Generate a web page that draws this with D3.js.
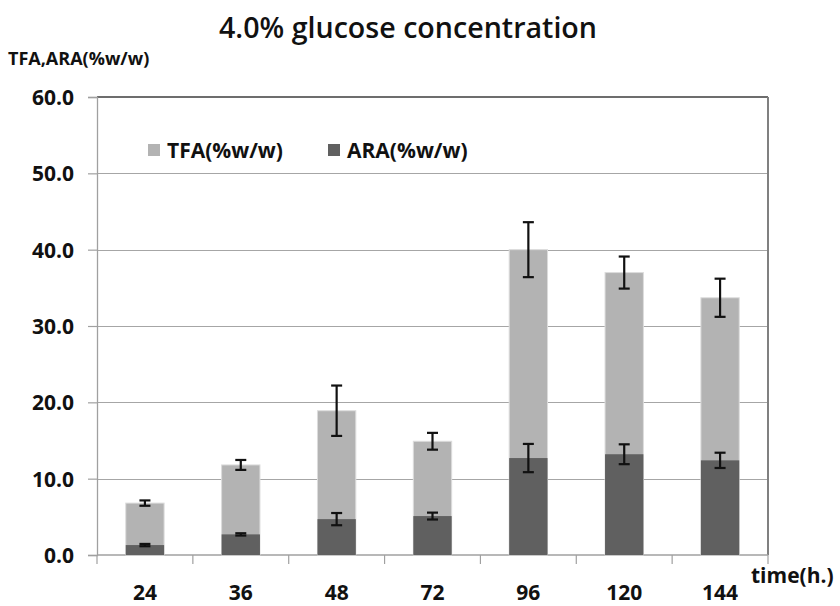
<!DOCTYPE html>
<html>
<head>
<meta charset="utf-8">
<script src="https://cdn.jsdelivr.net/npm/d3@7"></script>
<style>
  html, body { margin: 0; padding: 0; background: #fff; }
  svg { display: block; }
  text { font-family: "Open Sans", "Noto Sans", sans-serif; fill: #111; }
</style>
</head>
<body>
<svg id="chart" width="840" height="606"></svg>
<script>
// Sampling times (hours)
const categories = ["24", "36", "48", "72", "96", "120", "144"];
// Total fatty acids, % w/w, with standard deviation
const tfaValues = [6.8, 11.8, 18.9, 14.9, 40.0, 37.0, 33.7];
const tfaErrors = [0.35, 0.65, 3.3, 1.1, 3.6, 2.1, 2.5];
// Arachidonic acid, % w/w, with standard deviation
const araValues = [1.3, 2.7, 4.7, 5.1, 12.7, 13.2, 12.4];
const araErrors = [0.15, 0.15, 0.8, 0.45, 1.85, 1.3, 1.0];
// Value axis ticks
const yTicks = [0, 10, 20, 30, 40, 50, 60];
const seriesNames = ["TFA(%w/w)", "ARA(%w/w)"];

const svg = d3.select("#chart");
const plot = { left: 97, right: 768, top: 97, bottom: 555 };

const x = d3.scaleBand()
  .domain(categories)
  .range([plot.left, plot.right])
  .paddingInner(0.6)
  .paddingOuter(0.3);

const y = d3.scaleLinear()
  .domain([0, 60])
  .range([plot.bottom, plot.top]);

const colors = { tfa: "#b3b3b3", ara: "#606060" };

// Horizontal gridlines
svg.append("g")
  .selectAll("line")
  .data(yTicks.filter(t => t > 0 && t < 60))
  .join("line")
  .attr("x1", plot.left).attr("x2", plot.right)
  .attr("y1", d => Math.round(y(d)) + 0.5).attr("y2", d => Math.round(y(d)) + 0.5)
  .attr("stroke", "#a6a6a6").attr("stroke-width", 1.2);

// Plot frame: top and right edges
svg.append("line")
  .attr("x1", plot.left).attr("x2", plot.right)
  .attr("y1", y(60)).attr("y2", y(60))
  .attr("stroke", "#3c3c3c").attr("stroke-width", 1.3);
svg.append("line")
  .attr("x1", plot.right).attr("x2", plot.right)
  .attr("y1", y(60)).attr("y2", plot.bottom)
  .attr("stroke", "#808080").attr("stroke-width", 2);

// Y axis
const yAxis = d3.axisLeft(y)
  .tickValues(yTicks)
  .tickFormat(d3.format(".1f"))
  .tickSize(9)
  .tickPadding(14);
const gy = svg.append("g")
  .attr("transform", `translate(${plot.left},0)`)
  .call(yAxis);
gy.select(".domain").attr("stroke", "#a0a0a0").attr("stroke-width", 1.3);
gy.selectAll(".tick line").attr("stroke", "#a0a0a0").attr("stroke-width", 1.2);
gy.selectAll(".tick text")
  .attr("font-size", 21).attr("font-weight", "bold")
  .attr("fill", "#111").attr("dy", "0.36em");

// X axis: baseline, boundary ticks and category labels
svg.append("line")
  .attr("x1", plot.left).attr("x2", plot.right)
  .attr("y1", plot.bottom).attr("y2", plot.bottom)
  .attr("stroke", "#a0a0a0").attr("stroke-width", 1.3);
const boundaries = d3.range(categories.length + 1).map(i => plot.left + i * x.step());
svg.append("g")
  .selectAll("line")
  .data(boundaries)
  .join("line")
  .attr("x1", d => d).attr("x2", d => d)
  .attr("y1", plot.bottom).attr("y2", plot.bottom + 9)
  .attr("stroke", "#a0a0a0").attr("stroke-width", 1.2);
svg.append("g")
  .selectAll("text")
  .data(categories)
  .join("text")
  .attr("x", d => x(d) + x.bandwidth() / 2)
  .attr("y", 600)
  .attr("text-anchor", "middle")
  .attr("font-size", 21).attr("font-weight", "bold")
  .text(d => d);

// Bars: TFA behind, ARA in front, both from zero
const rows = categories.map((c, i) => ({
  cat: c, tfa: tfaValues[i], tfaErr: tfaErrors[i], ara: araValues[i], araErr: araErrors[i]
}));

svg.append("g")
  .selectAll("rect")
  .data(rows)
  .join("rect")
  .attr("x", d => x(d.cat))
  .attr("width", x.bandwidth())
  .attr("y", d => y(d.tfa))
  .attr("height", d => y(0) - y(d.tfa))
  .attr("fill", colors.tfa)
  .attr("stroke", "#dcdcdc").attr("stroke-width", 1);

svg.append("g")
  .selectAll("rect")
  .data(rows)
  .join("rect")
  .attr("x", d => x(d.cat))
  .attr("width", x.bandwidth())
  .attr("y", d => y(d.ara))
  .attr("height", d => y(0) - y(d.ara))
  .attr("fill", colors.ara);

// Error bars
function errorBars(valueKey, errKey) {
  const g = svg.append("g").attr("stroke", "#111").attr("stroke-width", 2.2);
  const cx = d => x(d.cat) + x.bandwidth() / 2;
  const cap = 5.5;
  g.selectAll("line.v").data(rows).join("line").attr("class", "v")
    .attr("x1", cx).attr("x2", cx)
    .attr("y1", d => y(d[valueKey] + d[errKey]))
    .attr("y2", d => y(d[valueKey] - d[errKey]));
  g.selectAll("line.t").data(rows).join("line").attr("class", "t")
    .attr("x1", d => cx(d) - cap).attr("x2", d => cx(d) + cap)
    .attr("y1", d => y(d[valueKey] + d[errKey]))
    .attr("y2", d => y(d[valueKey] + d[errKey]));
  g.selectAll("line.b").data(rows).join("line").attr("class", "b")
    .attr("x1", d => cx(d) - cap).attr("x2", d => cx(d) + cap)
    .attr("y1", d => y(d[valueKey] - d[errKey]))
    .attr("y2", d => y(d[valueKey] - d[errKey]));
}
errorBars("tfa", "tfaErr");
errorBars("ara", "araErr");

// Legend
const legend = svg.append("g");
const legendItems = [
  { name: seriesNames[0], color: colors.tfa, x: 148 },
  { name: seriesNames[1], color: colors.ara, x: 328 }
];
legendItems.forEach(item => {
  legend.append("rect")
    .attr("x", item.x).attr("y", 144)
    .attr("width", 12).attr("height", 12)
    .attr("fill", item.color);
  legend.append("text")
    .attr("x", item.x + 19).attr("y", 158)
    .attr("font-size", 21).attr("font-weight", "bold")
    .text(item.name);
});

// Titles
svg.append("text")
  .attr("x", 408).attr("y", 38)
  .attr("text-anchor", "middle")
  .attr("font-size", 28).attr("font-weight", 600)
  .attr("textLength", 378).attr("lengthAdjust", "spacingAndGlyphs")
  .text("4.0% glucose concentration");

svg.append("text")
  .attr("x", 8).attr("y", 65)
  .attr("font-size", 18).attr("font-weight", "bold")
  .text("TFA,ARA(%w/w)");

svg.append("text")
  .attr("x", 751).attr("y", 583)
  .attr("font-size", 21).attr("font-weight", "bold")
  .text("time(h.)");
</script>
</body>
</html>
